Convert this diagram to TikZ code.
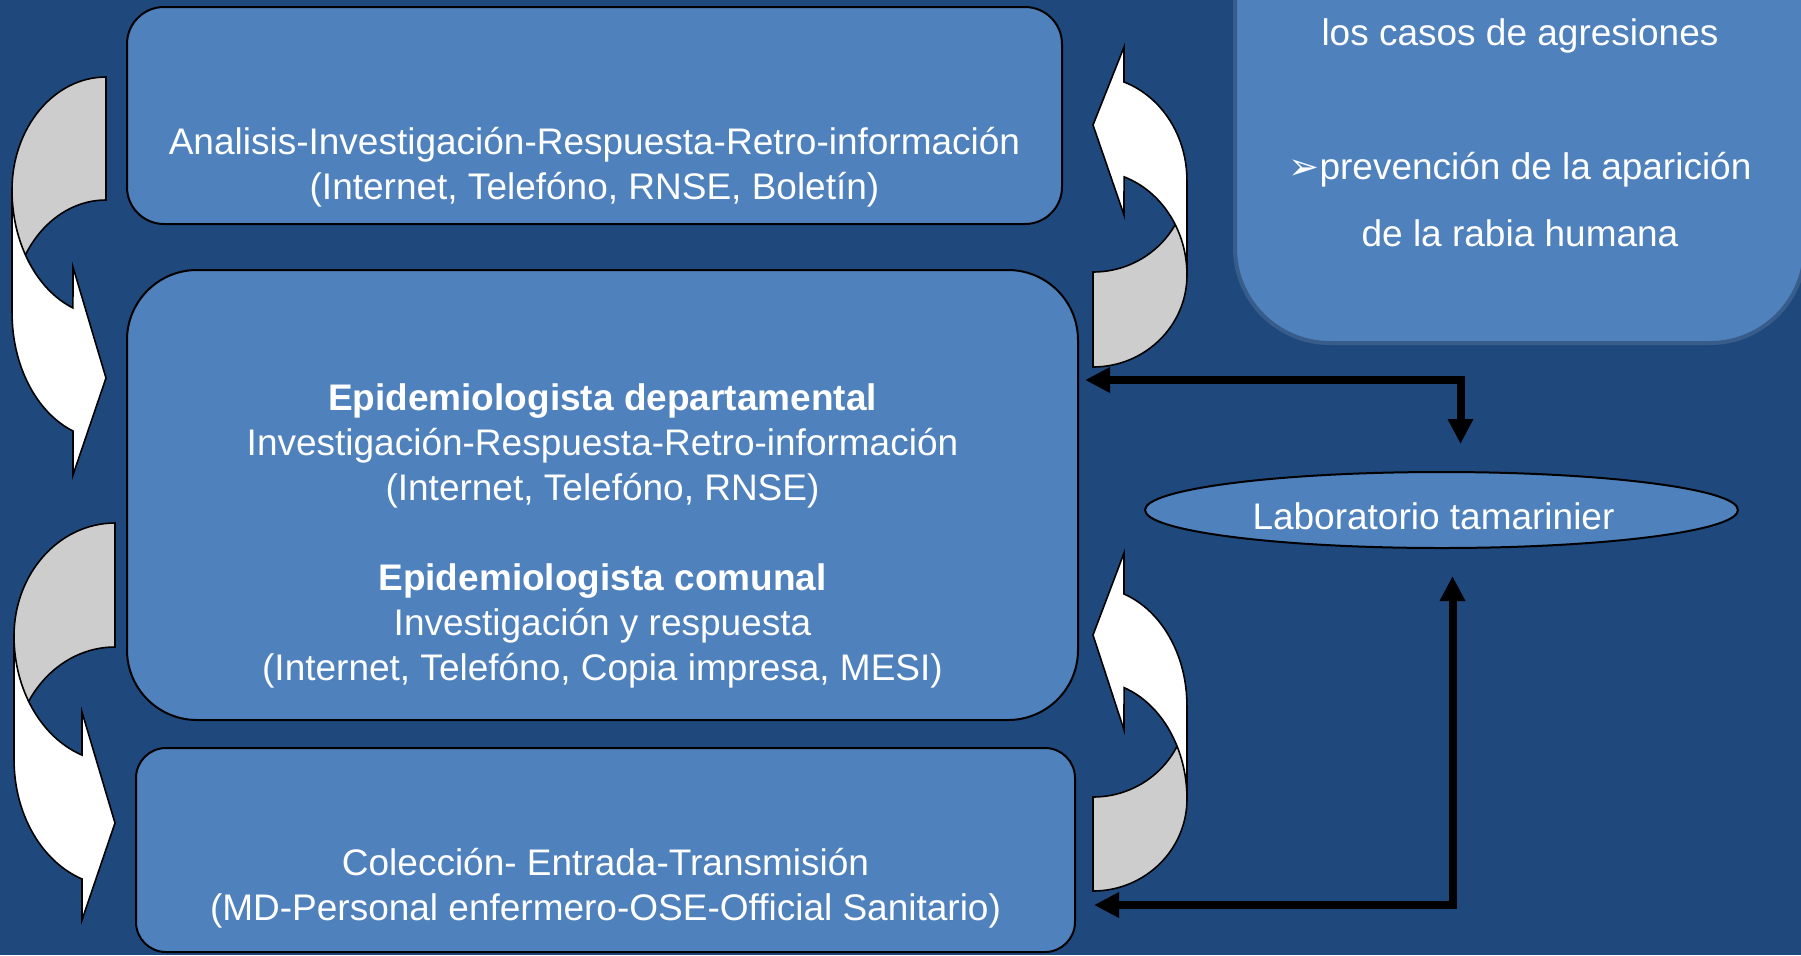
\documentclass[tikz,border=0pt]{standalone}
\usepackage{fontspec}
\setmainfont{Liberation Sans}
\newfontfamily\dejavu{DejaVu Sans}
\usepackage{xcolor}
\usetikzlibrary{positioning}
\usetikzlibrary{shapes.geometric}
\usetikzlibrary{arrows.meta}
\definecolor{bgcolor}{RGB}{31, 73, 125}
\definecolor{facecolor}{RGB}{79, 129, 189}
\definecolor{edgecolor}{RGB}{56, 93, 138}
\definecolor{bandcolor}{RGB}{205, 205, 205}
\tikzstyle{cbox} = [
	draw=black,
	line width=1pt,
	fill=facecolor,
	inner sep=0pt
]
\tikzstyle{ctext} = [
	text=white,
	align=center,
	font=\fontsize{18.5pt}{22.5pt}\selectfont
]
\tikzstyle{backband} = [
	draw=black,
	line width=0.8pt,
	fill=bandcolor
]
\tikzstyle{frontband} = [
	draw=black,
	line width=0.8pt,
	fill=white
]
\tikzstyle{link} = [
	line width=4pt,
	{Triangle[length=12.5pt,width=12pt]}-{Triangle[length=12.5pt,width=12pt]}
]

\begin{document}
\begin{tikzpicture}[x=0.5pt, y=-0.5pt]

	\path[use as bounding box, clip] (0,0) rectangle (1801,955);
	\fill[bgcolor] (0,0) rectangle (1801,955);

	%
	% Boxes
	\node[cbox, minimum width=467.5pt, minimum height=108.5pt, rounded corners=18.5pt] (ana) at (594.5,115.5) {};
	\node[ctext] (anatext) at ([shift={(0,52)}]ana.center) {Analisis-Investigación-Respuesta-Retro-información\\(Internet, Telefóno, RNSE, Boletín)};

	\node[cbox, minimum width=475.5pt, minimum height=225pt, rounded corners=35pt] (epi) at (602.5,495) {};
	\node[ctext] (epitext) at ([shift={(0,41)}]epi.center) {\textbf{Epidemiologista departamental}\\Investigación-Respuesta-Retro-información\\(Internet, Telefóno, RNSE)\\[22.5pt]\textbf{Epidemiologista comunal}\\Investigación y respuesta\\(Internet, Telefóno, Copia impresa, MESI)};

	\node[cbox, minimum width=469.5pt, minimum height=102pt, rounded corners=15pt] (col) at (605.5,850) {};
	\node[ctext] (coltext) at ([shift={(0,38)}]col.center) {Colección- Entrada-Transmisión\\(MD-Personal enfermero-OSE-Official Sanitario)};

	\node[cbox, draw=edgecolor, line width=2pt, minimum width=285pt, minimum height=246.5pt, rounded corners=47.5pt] (obj) at (1520,96.5) {};
	\node[ctext, font=\fontsize{18.5pt}{33.5pt}\selectfont] (objtext) at ([shift={(0,36)}]obj.center) {los casos de agresiones\\[33.5pt]{\dejavu ➢}prevención de la aparición\\de la rabia humana};

	\node[cbox, ellipse, minimum width=296.5pt, minimum height=38pt, text=white, text height=19.5pt, text depth=0pt, font=\fontsize{18.5pt}{22.5pt}\selectfont] (lab) at (1441.5,510) {\hspace*{-8pt}Laboratorio tamarinier};

	%
	% Links to the lab
	\draw[link] ([shift={(6,-115)}]epi.east) -| ([shift={(19,-27)}]lab.north);
	\draw[link] ([shift={(11,27)}]lab.south) |- ([shift={(18,55)}]col.east);

	%
	% Left curved arrows
	\draw[backband] (106,77) arc[start angle=270, end angle=180, x radius=94, y radius=113] -- (12,313) arc[start angle=180, end angle=270, x radius=94, y radius=113] -- cycle;
	\draw[frontband] (12,190) arc[start angle=180, end angle=110.6, x radius=94, y radius=126] -- (73,267) -- (106,378) -- (73,475) -- (73,431) arc[start angle=110.6, end angle=180, x radius=94, y radius=126] -- cycle;

	\draw[backband] (115,523) arc[start angle=270, end angle=180, x radius=101, y radius=113] -- (14,760) arc[start angle=180, end angle=270, x radius=101, y radius=113] -- cycle;
	\draw[frontband] (14,636) arc[start angle=180, end angle=109.1, x radius=101, y radius=126] -- (82,712) -- (115,823) -- (82,920) -- (82,879) arc[start angle=109.1, end angle=180, x radius=101, y radius=126] -- cycle;

	%
	% Right curved arrows
	\draw[backband] (1093,367) arc[start angle=90, end angle=0, x radius=94, y radius=92] -- (1187,180) arc[start angle=0, end angle=90, x radius=94, y radius=92] -- cycle;
	\draw[frontband] (1187,275) arc[start angle=0, end angle=-70.7, x radius=94, y radius=104] -- (1124,215) -- (1093,125) -- (1124,47) -- (1124,82) arc[start angle=-70.7, end angle=0, x radius=94, y radius=104] -- cycle;

	\draw[backband] (1093,891) arc[start angle=90, end angle=0, x radius=94, y radius=92] -- (1187,705) arc[start angle=0, end angle=90, x radius=94, y radius=92] -- cycle;
	\draw[frontband] (1187,799) arc[start angle=0, end angle=-70.7, x radius=94, y radius=118] -- (1124,730) -- (1093,635) -- (1124,553) -- (1124,594) arc[start angle=-70.7, end angle=0, x radius=94, y radius=118] -- cycle;

\end{tikzpicture}
\end{document}
